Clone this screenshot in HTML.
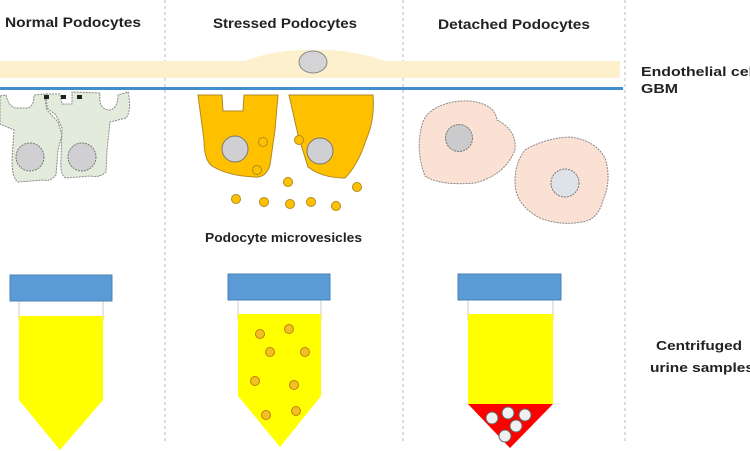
<!DOCTYPE html>
<html><head><meta charset="utf-8"><style>
html,body{margin:0;padding:0;background:#fff;}
svg{display:block;}
text{font-family:"Liberation Sans",sans-serif;font-weight:bold;fill:#222;}
</style></head><body>
<svg width="750" height="451" viewBox="0 0 750 451" xmlns="http://www.w3.org/2000/svg">
<g stroke="#bbb" stroke-width="1" stroke-dasharray="3,3">
<line x1="165" y1="0" x2="165" y2="442"/>
<line x1="403" y1="0" x2="403" y2="442"/>
<line x1="625" y1="0" x2="625" y2="442"/>
</g>
<text x="5" y="27" font-size="13.5" textLength="136" lengthAdjust="spacingAndGlyphs">Normal Podocytes</text>
<text x="213" y="28" font-size="13.5" textLength="144" lengthAdjust="spacingAndGlyphs">Stressed Podocytes</text>
<text x="438" y="29" font-size="13.5" textLength="152" lengthAdjust="spacingAndGlyphs">Detached Podocytes</text>
<!-- endothelial -->
<path d="M0,61 L245,61 Q270,51 300,50 L330,50 Q360,52 385,61 L620,61 L620,78 L0,78 Z" fill="#fdf0cc"/>
<ellipse cx="313" cy="62" rx="14" ry="11" fill="#d4d4d6" stroke="#888" stroke-width="1"/>
<rect x="0" y="87" width="623" height="3" fill="#3f8fd0"/>
<text x="641" y="76" font-size="13" textLength="112" lengthAdjust="spacingAndGlyphs">Endothelial cel</text>
<text x="641" y="93" font-size="13" textLength="37" lengthAdjust="spacingAndGlyphs">GBM</text>
<!-- normal cells -->
<g fill="#e3ecdc" stroke="#888" stroke-width="1" stroke-dasharray="2,1">
<path d="M0,96 L6,95 Q9,108 17,108 L28,108 Q34,106 34,95 L44,94 L47,110 L58,122 L62,135 L58,150 L56,175 Q50,182 44,180 L18,182 Q12,178 12,160 L14,130 L0,124 Z"/>
<path d="M46,94 L60,94 L62,104 L72,104 L72,92 L100,93 Q98,110 110,110 Q118,108 118,95 L128,92 Q132,110 126,118 L110,122 L107,150 L106,172 Q100,178 90,176 L66,178 Q60,176 61,160 L62,128 L56,115 L47,108 Z"/>
</g>
<g fill="#222"><rect x="44" y="95" width="5" height="4"/><rect x="61" y="95" width="5" height="4"/><rect x="77" y="95" width="5" height="4"/></g>
<g fill="#d0d0d2" stroke="#777" stroke-width="1" stroke-dasharray="2,1">
<circle cx="30" cy="157" r="14"/><circle cx="82" cy="157" r="14"/>
</g>
<!-- stressed cells -->
<g fill="#ffc000" stroke="#b08a20" stroke-width="1">
<path d="M198,95 L222,95 L223,111 L243,111 L244,95 L278,95 L275,130 L270,165 Q266,178 255,177 Q228,176 212,166 Q204,160 204,140 Z"/>
<path d="M289,95 L373,95 Q375,120 366,140 Q358,165 345,178 Q322,178 308,167 L298,135 Z"/>
</g>
<g fill="#d0d0d2" stroke="#777" stroke-width="1"><circle cx="235" cy="149" r="13"/><circle cx="320" cy="151" r="13"/></g>
<g fill="#ffc000" stroke="#b08a20" stroke-width="1">
<circle cx="263" cy="142" r="4.5"/><circle cx="257" cy="170" r="4.5"/><circle cx="299" cy="140" r="4.5"/><circle cx="288" cy="182" r="4.5"/><circle cx="357" cy="187" r="4.5"/><circle cx="236" cy="199" r="4.5"/><circle cx="264" cy="202" r="4.5"/><circle cx="290" cy="204" r="4.5"/><circle cx="311" cy="202" r="4.5"/><circle cx="336" cy="206" r="4.5"/>
</g>
<text x="205" y="242" font-size="13" textLength="157" lengthAdjust="spacingAndGlyphs">Podocyte microvesicles</text>
<!-- detached -->
<g fill="#fbe1d4" stroke="#888" stroke-width="1" stroke-dasharray="2,1">
<path d="M430,112 Q445,100 470,101 Q495,104 497,120 Q517,130 515,150 Q505,175 475,183 Q440,186 425,176 Q417,155 420,135 Q422,118 430,112 Z"/>
<path d="M525,150 Q545,138 570,137 Q595,140 605,158 Q612,180 603,200 Q598,220 582,222 Q560,226 540,218 Q515,205 515,182 Q515,162 525,150 Z"/>
</g>
<circle cx="459" cy="138" r="13.5" fill="#cbcbcd" stroke="#777" stroke-dasharray="2,1"/>
<circle cx="565" cy="183" r="14" fill="#dde3e8" stroke="#777" stroke-dasharray="2,1"/>
<!-- tubes -->
<g stroke="#ccc" stroke-width="1" fill="#fff">
<rect x="19" y="300" width="84" height="20"/><rect x="238" y="300" width="83" height="20"/><rect x="468" y="300" width="85" height="20"/>
</g>
<path d="M19,316 L103,316 L103,400 L60,450 L19,400 Z" fill="#ffff00"/>
<path d="M238,314 L321,314 L321,396 L280,447 L238,396 Z" fill="#ffff00"/>
<path d="M468,314 L553,314 L553,404 L468,404 Z" fill="#ffff00"/>
<path d="M468,404 L553,404 L510,448 Z" fill="#f00"/>
<g fill="#5b9bd5" stroke="#4a80b8"><rect x="10" y="275" width="102" height="26"/><rect x="228" y="274" width="102" height="26"/><rect x="458" y="274" width="103" height="26"/></g>
<g fill="#f2c020" stroke="#c08010" stroke-width="1">
<circle cx="260" cy="334" r="4.5"/><circle cx="289" cy="329" r="4.5"/><circle cx="270" cy="352" r="4.5"/><circle cx="305" cy="352" r="4.5"/><circle cx="255" cy="381" r="4.5"/><circle cx="294" cy="385" r="4.5"/><circle cx="266" cy="415" r="4.5"/><circle cx="296" cy="411" r="4.5"/>
</g>
<g fill="#f0f0f0" stroke="#666" stroke-width="1">
<circle cx="492" cy="418" r="6"/><circle cx="508" cy="413" r="6"/><circle cx="525" cy="415" r="6"/><circle cx="516" cy="426" r="6"/><circle cx="505" cy="436" r="6"/>
</g>
<text x="656" y="350" font-size="13" textLength="86" lengthAdjust="spacingAndGlyphs">Centrifuged</text>
<text x="650" y="372" font-size="13" textLength="104" lengthAdjust="spacingAndGlyphs">urine samples</text>
</svg>
</body></html>
